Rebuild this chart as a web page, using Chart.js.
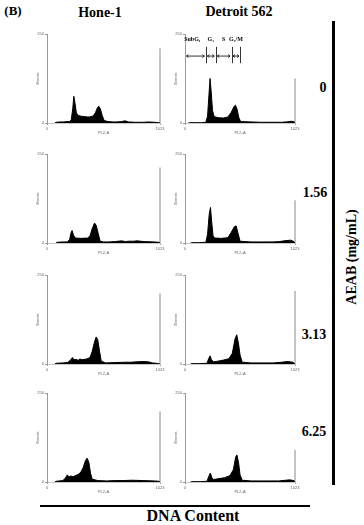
<!DOCTYPE html>
<html>
<head>
<meta charset="utf-8">
<script src="https://cdn.jsdelivr.net/npm/chart.js@4.4.1/dist/chart.umd.min.js"></script>
<style>
  body { margin: 0; width: 364px; height: 525px; background: #fff; position: relative; overflow: hidden;
         font-family: "Liberation Serif", "Times New Roman", serif; font-weight: bold; color: #000; }
  .t { position: absolute; white-space: nowrap; transform: translate(-50%, -50%); }
  .panel { position: absolute; }
  .rule { position: absolute; background: #000; }
</style>
</head>
<body>
<div class="t" style="left:13px;top:11px;font-size:13px">(B)</div>
<div class="t" style="left:100px;top:13px;font-size:14px">Hone-1</div>
<div class="t" style="left:239px;top:12px;font-size:14px">Detroit 562</div>

<div class="t" style="left:323px;top:88px;font-size:14px">0</div>
<div class="t" style="left:315px;top:193px;font-size:14px">1.56</div>
<div class="t" style="left:314px;top:335px;font-size:14px">3.13</div>
<div class="t" style="left:314px;top:432px;font-size:14px">6.25</div>

<div class="rule" style="left:332px;top:21px;width:3px;height:464px"></div>
<div class="t" style="left:352px;top:257px;font-size:14px;transform:translate(-50%,-50%) rotate(-90deg)">AEAB (mg/mL)</div>

<div class="rule" style="left:40px;top:505px;width:270px;height:2px"></div>
<div class="t" style="left:193px;top:516px;font-size:16px">DNA Content</div>

<div id="panels"></div>

<script>
// DNA content histograms, [channel 0-1023, events]
const hone0 = [[72,0],[82,2],[120,3],[153,3],[180,4],[205,4],[220,10],[233,40],[243,75],[254,55],[266,28],[286,21],[310,19],[338,18],[365,17],[389,17],[419,20],[440,30],[455,42],[469,47],[483,40],[499,22],[517,7],[552,4],[600,3],[634,3],[675,4],[706,6],[737,3],[800,2],[870,2],[920,3],[972,2],[1013,1],[1023,0]];
const det0 = [[31,0],[51,1],[100,1],[153,1],[194,2],[210,20],[223,80],[233,125],[243,90],[256,35],[271,18],[307,15],[358,14],[399,17],[430,30],[455,46],[469,50],[483,40],[501,15],[517,4],[614,3],[700,2],[818,2],[900,2],[941,3],[992,5],[1018,3],[1023,0]];
const hone156 = [[82,0],[92,2],[140,3],[184,3],[205,10],[217,28],[227,35],[240,22],[256,14],[307,13],[368,14],[389,20],[409,40],[430,56],[445,50],[465,25],[481,5],[512,3],[560,3],[614,4],[675,6],[710,4],[737,5],[780,5],[818,6],[850,5],[880,4],[972,3],[1013,2],[1023,0]];
const det156 = [[51,0],[61,1],[130,1],[194,2],[210,25],[225,80],[237,100],[248,60],[261,20],[276,14],[338,13],[399,15],[430,30],[460,46],[476,48],[491,30],[512,5],[614,3],[720,3],[818,3],[880,4],[921,6],[982,8],[1013,4],[1023,0]];
const hone313 = [[72,0],[82,2],[140,3],[184,4],[210,10],[230,18],[246,12],[266,13],[281,10],[297,14],[317,12],[358,14],[389,18],[409,35],[430,62],[445,76],[460,68],[476,35],[491,8],[532,3],[614,4],[716,5],[760,5],[808,6],[870,7],[921,6],[951,3],[992,2],[1023,0]];
const det313 = [[51,0],[61,1],[140,1],[205,2],[220,15],[233,23],[246,12],[266,6],[307,8],[358,11],[409,15],[440,30],[465,70],[481,82],[496,60],[512,25],[532,5],[614,3],[720,3],[818,3],[900,5],[951,7],[1003,5],[1023,0]];
const hone625 = [[72,0],[82,2],[143,4],[164,10],[184,20],[199,14],[215,17],[235,15],[266,19],[286,22],[307,28],[327,40],[348,60],[363,67],[379,55],[394,25],[409,8],[460,4],[540,3],[614,4],[690,4],[767,5],[870,4],[972,3],[1013,2],[1023,0]];
const det625 = [[51,0],[61,1],[140,1],[205,2],[220,15],[235,25],[251,12],[266,7],[307,9],[368,12],[419,18],[450,35],[471,70],[483,76],[498,55],[512,20],[532,5],[614,3],[720,3],[870,3],[972,6],[1013,4],[1023,0]];

// off-scale events piled in the last channel
const lastBin = [210, 125, 212, 120, 198, 205, 198, 90];

// cell-cycle gates marked on the Detroit 562 control
const gateEdges = [0, 194, 286, 433, 516];
const gateLabels = ['SubG\u2081', 'G\u2081', 'S', 'G\u2082/M'];

const panelData = [hone0, det0, hone156, det156, hone313, det313, hone625, det625];

// layout
const colLeft = [47, 185];
const colWidth = [113, 110];
const rowTop = [34, 154, 275, 393];
const plotH = 89;

const gatePlugin = {
  id: 'gates',
  afterDatasetsDraw(chart, args, opts) {
    if (!opts.on) return;
    const { ctx } = chart;
    const x = chart.scales.x, y = chart.scales.y;
    const yTop = y.getPixelForValue(214), yBot = y.getPixelForValue(168);
    const yArr = y.getPixelForValue(188), yLab = y.getPixelForValue(234);
    ctx.save();
    ctx.strokeStyle = '#000';
    ctx.lineWidth = 0.8;
    for (let i = 1; i < gateEdges.length; i++) {
      const px = Math.round(x.getPixelForValue(gateEdges[i])) + 0.5;
      ctx.beginPath(); ctx.moveTo(px, yTop); ctx.lineTo(px, yBot); ctx.stroke();
    }
    for (let i = 0; i < gateEdges.length - 1; i++) {
      const a = x.getPixelForValue(gateEdges[i]) + 1.5, b = x.getPixelForValue(gateEdges[i + 1]) - 1.5;
      ctx.beginPath();
      ctx.moveTo(a, yArr); ctx.lineTo(b, yArr);
      ctx.moveTo(a + 2, yArr - 1.5); ctx.lineTo(a, yArr); ctx.lineTo(a + 2, yArr + 1.5);
      ctx.moveTo(b - 2, yArr - 1.5); ctx.lineTo(b, yArr); ctx.lineTo(b - 2, yArr + 1.5);
      ctx.stroke();
    }
    ctx.fillStyle = '#000';
    ctx.font = 'bold 6px "Liberation Serif"';
    ctx.textAlign = 'center';
    ctx.textBaseline = 'middle';
    for (let i = 0; i < gateLabels.length; i++) {
      const c = (x.getPixelForValue(gateEdges[i]) + x.getPixelForValue(gateEdges[i + 1])) / 2;
      ctx.fillText(gateLabels[i], i === 0 ? c - 3 : c, yLab);
    }
    ctx.restore();
  }
};

const holder = document.getElementById('panels');
const tiny = { size: 4, family: 'Arial, "Liberation Sans", sans-serif' };

panelData.forEach((hist, i) => {
  const col = i % 2, row = Math.floor(i / 2);
  const w = colWidth[col] + 18, h = plotH + 16;
  const div = document.createElement('div');
  div.className = 'panel';
  div.style.left = (colLeft[col] - 12) + 'px';
  div.style.top = (rowTop[row] - 4) + 'px';
  const canvas = document.createElement('canvas');
  canvas.width = w; canvas.height = h;
  div.appendChild(canvas);
  holder.appendChild(div);

  new Chart(canvas.getContext('2d'), {
    type: 'line',
    data: {
      datasets: [
        {
          data: hist.map(p => ({ x: p[0], y: p[1] })),
          borderColor: '#000', backgroundColor: '#000', borderWidth: 1,
          fill: 'origin', pointRadius: 0, tension: 0
        },
        {
          data: [{ x: 1023, y: 0 }, { x: 1023, y: lastBin[i] }],
          borderColor: '#8a8a8a', borderWidth: 1, pointRadius: 0, fill: false, clip: 3
        }
      ]
    },
    options: {
      responsive: false,
      animation: false,
      layout: { padding: { top: 4, right: 6, left: 0, bottom: 0 } },
      plugins: { legend: { display: false }, tooltip: { enabled: false }, gates: { on: i === 1 } },
      scales: {
        x: {
          type: 'linear', min: 0, max: 1023,
          afterFit: s => { s.height = 12; },
          ticks: { stepSize: 1023, font: tiny, color: '#666', padding: 1, maxRotation: 0, autoSkip: false,
                   callback: v => String(v) },
          grid: { drawOnChartArea: false, tickLength: 2, color: '#999' },
          border: { color: '#c8c8c8', width: 1 },
          title: { display: true, text: 'PL2-A', font: tiny, color: '#666', padding: { top: 1, bottom: 0 } }
        },
        y: {
          min: 0, max: 250,
          afterFit: s => { s.width = 12; },
          ticks: { stepSize: 250, font: tiny, color: '#666', padding: 1, callback: v => String(v) },
          grid: { drawOnChartArea: false, tickLength: 2, color: '#999' },
          border: { color: '#999', width: 1 },
          title: { display: true, text: 'Events', font: tiny, color: '#666', padding: 0 }
        }
      }
    },
    plugins: [gatePlugin]
  });
});
</script>
</body>
</html>
